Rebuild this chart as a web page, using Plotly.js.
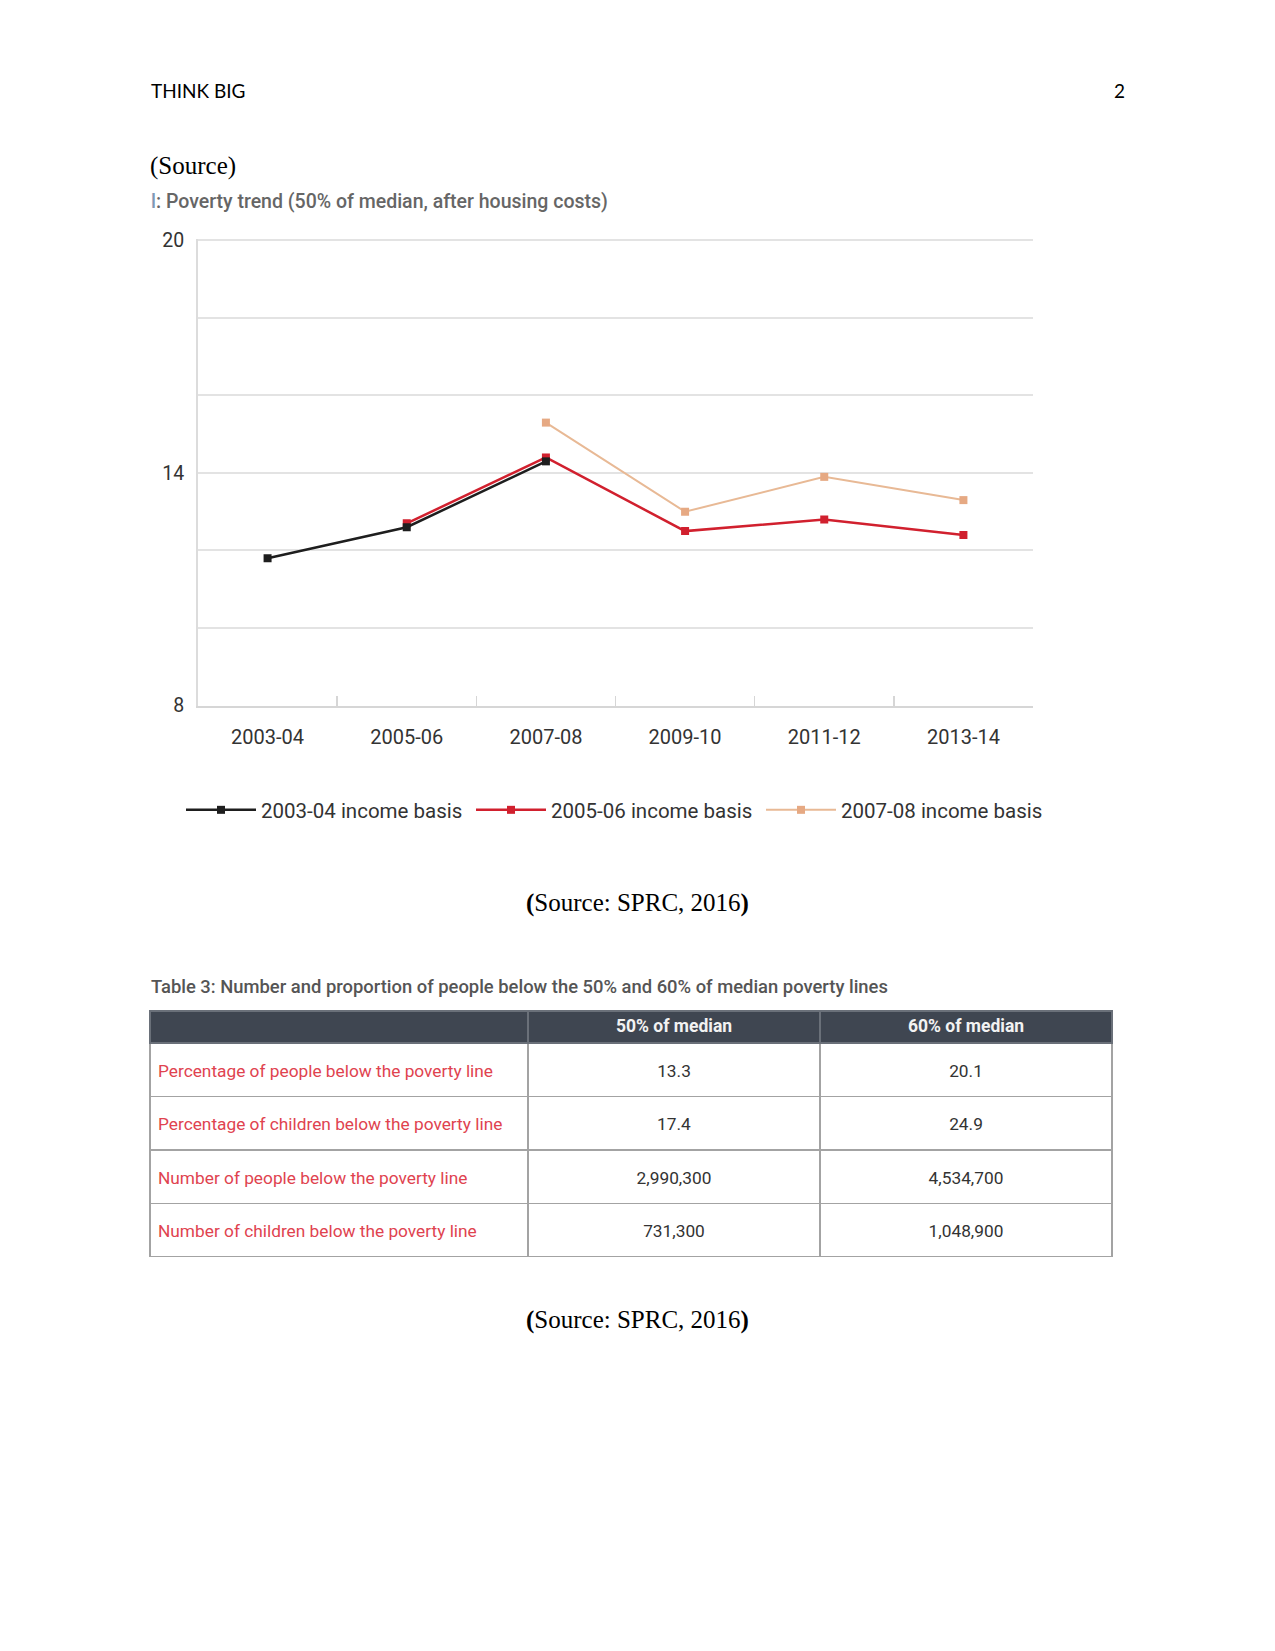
<!DOCTYPE html>
<html><head><meta charset="utf-8">
<script src="https://cdn.plot.ly/plotly-3.0.1.min.js"></script>
<style>html,body{margin:0;padding:0;background:#fff}#page{width:1275px;height:1651px}</style>
</head><body><div id="page"></div>
<script>
// ---- data ----
const years = ['2003-04','2005-06','2007-08','2009-10','2011-12','2013-14'];
const basis0304 = [11.8, 12.6, 14.3, null, null, null];
const basis0506 = [null, 12.7, 14.4, 12.5, 12.8, 12.4];
const basis0708 = [null, null, 15.3, 13.0, 13.9, 13.3];
const seriesNames = ['2003-04 income basis','2005-06 income basis','2007-08 income basis'];
const yTickVals = [8, 10, 12, 14, 16, 18, 20];
const yTickText = ['8', '', '', '14', '', '', '20'];
const tableHeader = ['', '50% of median', '60% of median'];
const tableRows = ['Percentage of people below the poverty line',
                   'Percentage of children below the poverty line',
                   'Number of people below the poverty line',
                   'Number of children below the poverty line'];
const median50 = ['13.3', '17.4', '2,990,300', '731,300'];
const median60 = ['20.1', '24.9', '4,534,700', '1,048,900'];
const headerText = 'THINK BIG';
const pageNumber = '2';
const chartTitle = '<span style="color:#7f97b5">l</span>: Poverty trend (50% of median, after housing costs)';
const tableTitle = 'Table 3: Number and proportion of people below the 50% and 60% of median poverty lines';
const sourceNote = '<b>(</b>Source: SPRC, 2016<b>)</b>';

// ---- page geometry helpers ----
const W = 1275, H = 1651;
const px = x => x / W;
const py = y => 1 - y / H;

// vertical centring of table cell text: a blank (nbsp) small first line, then the real text
const CELL_BASE = 11.5, CELL_SIZE = 17.3;
const cellText = arr => arr.map(v => '\u00a0<br><span style="font-size:' + CELL_SIZE + 'px">' + v + '</span>');

const traces = [
  {type:'scatter', mode:'lines+markers', x:years, y:basis0708, name:seriesNames[2], legendrank:3,
   line:{color:'#e8b995', width:2}, marker:{symbol:'square', size:8, color:'#e6a983'}},
  {type:'scatter', mode:'lines+markers', x:years, y:basis0506, name:seriesNames[1], legendrank:2,
   line:{color:'#d1202e', width:2.5}, marker:{symbol:'square', size:8, color:'#d1202e'}},
  {type:'scatter', mode:'lines+markers', x:years, y:basis0304, name:seriesNames[0], legendrank:1,
   line:{color:'#1e1e1e', width:2.5}, marker:{symbol:'square', size:8, color:'#1e1e1e'}},
  {type:'table', domain:{x:[px(150), px(1112)], y:[py(1258), py(1011)]},
   columnwidth:[378, 292, 292],
   header:{values:tableHeader, fill:{color:'#3f4651'}, line:{color:'#6a7079', width:1.5},
           font:{family:'Roboto', size:17.5, color:'#f2f2f2', weight:'bold'}, align:'center', height:32},
   cells:{values:[cellText(tableRows), cellText(median50), cellText(median60)],
          fill:{color:'#ffffff'}, line:{color:'#a3a3a3', width:1.5},
          font:{family:'Roboto', size:CELL_BASE, color:['#e0434f', '#333333', '#333333']},
          align:['left', 'center', 'center'], height:53.5}}
];

const ann = (text, x, y, opts) => Object.assign({text, x:px(x), y:py(y), xref:'paper', yref:'paper',
  xanchor:'left', yanchor:'middle', showarrow:false}, opts || {});

const layout = {
  width:W, height:H, margin:{l:0, r:0, t:0, b:0},
  paper_bgcolor:'#ffffff', plot_bgcolor:'#ffffff',
  showlegend:true, hovermode:false,
  xaxis:{domain:[px(198), px(1033)], type:'category', categoryorder:'array', categoryarray:years,
         range:[-0.5, 5.5], showline:true, linecolor:'#d6d6d6', linewidth:2,
         ticks:'inside', tickson:'boundaries', ticklen:10, tickcolor:'#d6d6d6', tickwidth:1.5,
         showgrid:false, zeroline:false, tickfont:{family:'Roboto', size:20, color:'#333'},
         ticklabelstandoff:12, fixedrange:true},
  yaxis:{domain:[py(705.5), py(239.3)], range:[8, 20.03], tickvals:yTickVals, ticktext:yTickText,
         showgrid:true, gridcolor:'#e3e3e3', gridwidth:2, showline:true, linecolor:'#dcdcdc', linewidth:2,
         ticks:'', zeroline:false, tickfont:{family:'Roboto', size:19.5, color:'#333'},
         ticklabelstandoff:8, fixedrange:true},
  legend:{orientation:'h', x:px(181), xanchor:'left', y:py(810), yanchor:'middle',
          font:{family:'Roboto', size:20.5, color:'#333'}, entrywidth:205, entrywidthmode:'pixels',
          itemwidth:70, bgcolor:'rgba(0,0,0,0)', traceorder:'normal'},
  annotations:[
    ann(headerText, 149, 90, {font:{family:'Lato', size:19, color:'#000'}}),
    ann(pageNumber, 1127, 90, {xanchor:'right', font:{family:'Lato', size:19, color:'#000'}}),
    ann('(Source)', 148, 166, {font:{family:'Liberation Serif', size:25, color:'#000'}}),
    ann(chartTitle, 149, 201, {font:{family:'Roboto', size:19.5, color:'#666', weight:500}}),
    ann(sourceNote, 637.5, 903, {xanchor:'center', font:{family:'Liberation Serif', size:25, color:'#000'}}),
    ann(tableTitle, 149, 986, {font:{family:'Roboto', size:18.4, color:'#555', weight:500}}),
    ann(sourceNote, 637.5, 1320, {xanchor:'center', font:{family:'Liberation Serif', size:25, color:'#000'}})
  ]
};

Plotly.newPlot('page', traces, layout, {staticPlot:true, displayModeBar:false});
</script>
</body></html>
